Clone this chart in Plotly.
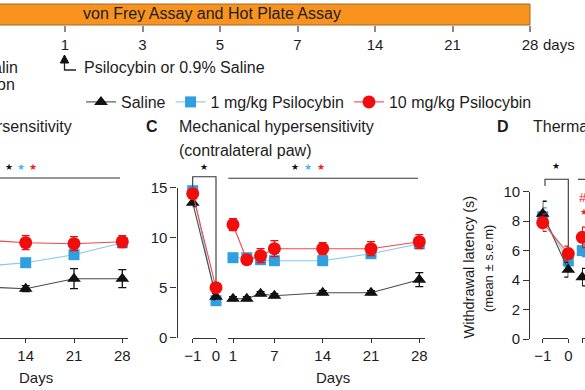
import plotly.graph_objects as go

W, H = 585, 390


def X(p):
    return p / W


def Y(p):
    return 1 - p / H


# ---------------- data ----------------
TIMELINE_DAYS = [1, 3, 5, 7, 14, 21, 28]
SERIES_NAMES = ["Saline", "1 mg/kg Psilocybin", "10 mg/kg Psilocybin"]

# Panel B (visible part only)
B_DAYS = [7, 14, 21, 28]
B_SALINE = [5.1, 4.9, 5.9, 5.9]
B_SALINE_SEM = [0.3, 0.3, 1.0, 0.9]
B_LOW = [7.1, 7.5, 8.3, 9.5]
B_LOW_SEM = [0.3, 0.3, 0.3, 0.3]
B_HIGH = [9.8, 9.5, 9.4, 9.6]
B_HIGH_SEM = [0.6, 0.7, 0.7, 0.6]

# Panel C: mechanical hypersensitivity (contralateral paw)
PRE_DAYS = [-1, 0]
POST_DAYS = [1, 3, 5, 7, 14, 21, 28]
C_SALINE_PRE = [13.5, 4.1]
C_SALINE_PRE_SEM = [0.4, 0.3]
C_LOW_PRE = [14.7, 3.7]
C_LOW_PRE_SEM = [0.2, 0.3]
C_HIGH_PRE = [14.4, 5.0]
C_HIGH_PRE_SEM = [0.3, 0.4]
C_SALINE_POST = [3.9, 3.9, 4.4, 4.2, 4.5, 4.5, 5.8]
C_SALINE_POST_SEM = [0.2, 0.2, 0.2, 0.2, 0.2, 0.2, 0.7]
C_LOW_POST = [8.0, 8.0, 7.8, 7.7, 7.7, 8.4, 9.4]
C_LOW_POST_SEM = [0.3, 0.3, 0.3, 0.3, 0.3, 0.3, 0.3]
C_HIGH_POST = [11.3, 7.8, 8.2, 8.9, 8.9, 8.9, 9.6]
C_HIGH_POST_SEM = [0.6, 0.3, 0.7, 0.8, 0.6, 0.7, 0.7]

# Panel D: thermal hypersensitivity (visible part)
D_PRE_DAYS = [-1, 0]
D_POST_DAYS = [1]
D_SALINE_PRE = [8.5, 4.7]
D_SALINE_PRE_SEM = [0.85, 0.5]
D_LOW_PRE = [8.3, 5.3]
D_LOW_PRE_SEM = [0.6, 0.4]
D_HIGH_PRE = [7.9, 5.8]
D_HIGH_PRE_SEM = [0.6, 0.5]
D_SALINE_POST = [4.2]
D_SALINE_POST_SEM = [0.6]
D_LOW_POST = [6.0]
D_LOW_POST_SEM = [0.4]
D_HIGH_POST = [6.9]
D_HIGH_POST_SEM = [0.7]

C_TICKS_Y = [0, 5, 10, 15]
D_TICKS_Y = [0, 2, 4, 6, 8, 10]

# ---------------- styles ----------------
FONT = "Liberation Sans, Arial, Helvetica, sans-serif"
TXT = "#1d1d1d"
AX = "#333333"
STY = {
    "Saline": dict(color="#111111", line="#4a4a4a", symbol="triangle-up", size=12, rank=1),
    "1 mg/kg Psilocybin": dict(color="#2f9fe0", line="#86c7ea", symbol="square", size=11, rank=2),
    "10 mg/kg Psilocybin": dict(color="#f20d0d", line="#f04848", symbol="circle", size=13, rank=3),
}
ORDER = ["1 mg/kg Psilocybin", "Saline", "10 mg/kg Psilocybin"]

fig = go.Figure()


def add(name, x, y, sem, xa, ya, legend=False):
    s = STY[name]
    fig.add_trace(go.Scatter(
        x=x, y=y, mode="lines+markers", name=name, xaxis=xa, yaxis=ya,
        line=dict(color=s["line"], width=1.1),
        marker=dict(symbol=s["symbol"], size=s["size"], color=s["color"], line=dict(width=0)),
        error_y=dict(type="data", array=sem, color=s["color"], thickness=1.3, width=4),
        showlegend=legend, legendrank=s["rank"], cliponaxis=False, hoverinfo="skip"))


B = {"Saline": (B_SALINE, B_SALINE_SEM), "1 mg/kg Psilocybin": (B_LOW, B_LOW_SEM),
     "10 mg/kg Psilocybin": (B_HIGH, B_HIGH_SEM)}
CPRE = {"Saline": (C_SALINE_PRE, C_SALINE_PRE_SEM), "1 mg/kg Psilocybin": (C_LOW_PRE, C_LOW_PRE_SEM),
        "10 mg/kg Psilocybin": (C_HIGH_PRE, C_HIGH_PRE_SEM)}
CPOST = {"Saline": (C_SALINE_POST, C_SALINE_POST_SEM), "1 mg/kg Psilocybin": (C_LOW_POST, C_LOW_POST_SEM),
         "10 mg/kg Psilocybin": (C_HIGH_POST, C_HIGH_POST_SEM)}
DPRE = {"Saline": (D_SALINE_PRE, D_SALINE_PRE_SEM), "1 mg/kg Psilocybin": (D_LOW_PRE, D_LOW_PRE_SEM),
        "10 mg/kg Psilocybin": (D_HIGH_PRE, D_HIGH_PRE_SEM)}
DPOST = {"Saline": (D_SALINE_POST, D_SALINE_POST_SEM), "1 mg/kg Psilocybin": (D_LOW_POST, D_LOW_POST_SEM),
         "10 mg/kg Psilocybin": (D_HIGH_POST, D_HIGH_POST_SEM)}

for n in ORDER:
    add(n, B_DAYS, *B[n], "x2", "y2")
    add(n, PRE_DAYS, *CPRE[n], "x3", "y3")
    add(n, POST_DAYS, *CPOST[n], "x4", "y3", legend=True)
    add(n, D_PRE_DAYS, *DPRE[n], "x5", "y5")
    add(n, D_POST_DAYS, *DPOST[n], "x6", "y5")

# ---------------- axes ----------------
PXD = 6.9          # pixels per day on the 1..28 axes
A_C = 226.1        # pixel of day 0 on panel C's post axis
C_R0 = (228.3 - A_C) / PXD
C_R1 = (425 - A_C) / PXD
B_R0 = 21 - 74 / PXD
B_R1 = B_R0 + 128 / PXD

XAX_Y = 342.7
common_x = dict(showgrid=False, zeroline=False, showline=True, linecolor=AX, linewidth=1.2,
                ticks="outside", ticklen=4, tickwidth=1.2, tickcolor=AX, automargin=False,
                tickfont=dict(size=15, color=TXT, family=FONT), anchor="y8", tickmode="array")
xdefs = {
    "xaxis2": dict(domain=[0, X(128)], range=[B_R0, B_R1], tickvals=[7, 14, 21, 28]),
    "xaxis3": dict(domain=[X(192.7), X(216)], range=[-1, 0], tickvals=PRE_DAYS),
    "xaxis4": dict(domain=[X(228.3), X(425)], range=[C_R0, C_R1], tickvals=[1, 7, 14, 21, 28]),
    "xaxis5": dict(domain=[X(542.7), X(568.3)], range=[-1, 0], tickvals=D_PRE_DAYS),
    "xaxis6": dict(domain=[X(582), 1], range=[1 - 0.3 / PXD, 1 + 3 / PXD], tickvals=D_POST_DAYS),
}
layout_axes = {}
k = 8
for name, d in xdefs.items():
    layout_axes[name] = dict(common_x, **d)
    # companion axis providing the upper half of the crossing tick marks
    k += 1
    layout_axes["xaxis%d" % k] = dict(domain=d["domain"], range=d["range"], tickvals=d["tickvals"],
                                      tickmode="array", anchor="y8", showgrid=False, zeroline=False,
                                      showline=False, ticks="inside", ticklen=4, tickwidth=1.2,
                                      tickcolor=AX, showticklabels=False, automargin=False)

common_y = dict(showgrid=False, zeroline=False, showline=True, linecolor=AX, linewidth=1.2,
                ticks="outside", ticklen=6, tickwidth=1.2, tickcolor=AX, automargin=False,
                tickfont=dict(size=15, color=TXT, family=FONT), tickmode="array")
layout_axes["yaxis2"] = dict(domain=[Y(337.7), Y(187.7)], range=[0, 15], visible=False, anchor="x2",
                             automargin=False)
layout_axes["yaxis3"] = dict(common_y, domain=[Y(337.7), Y(187.7)], range=[0, 15], tickvals=C_TICKS_Y,
                             anchor="free", position=X(176.5))
layout_axes["yaxis5"] = dict(common_y, domain=[Y(339), Y(191.7)], range=[0, 10], tickvals=D_TICKS_Y,
                             anchor="free", position=X(529.3))
layout_axes["yaxis8"] = dict(domain=[Y(XAX_Y), Y(300)], range=[0, 1], visible=False, anchor="x2",
                             automargin=False)

# timeline axis (equally spaced day marks)
T0, TSTEP = 65, 77.5
layout_axes["xaxis7"] = dict(domain=[0, 1], range=[(0 - T0) / TSTEP, (W - T0) / TSTEP], anchor="y7",
                             showgrid=False, zeroline=False, showline=False, ticks="outside",
                             ticklen=6, tickwidth=1.5, tickcolor="#8a8a8a", tickmode="array",
                             tickvals=list(range(len(TIMELINE_DAYS))),
                             ticktext=[str(d) for d in TIMELINE_DAYS], automargin=False,
                             tickfont=dict(size=15, color=TXT, family=FONT))
layout_axes["yaxis7"] = dict(domain=[Y(25), Y(4)], range=[0, 1], visible=False, anchor="x7",
                             automargin=False)

# ---------------- shapes ----------------
shapes = [dict(type="rect", xref="x7", yref="paper", x0=-2, x1=len(TIMELINE_DAYS) - 1,
               y0=Y(25), y1=Y(4), fillcolor="#f7931e", line=dict(color="#a2682a", width=1), layer="below")]


def seg(pts, color=AX, w=1.1, fill=None):
    d = "M " + " L ".join("%.5f,%.5f" % (X(a), Y(b)) for a, b in pts)
    if fill:
        d += " Z"
    shapes.append(dict(type="path", xref="paper", yref="paper", path=d,
                       line=dict(color=color, width=w), fillcolor=fill if fill else "rgba(0,0,0,0)"))


seg([(64.5, 62), (64.5, 70), (76, 70)], color="#222", w=1.3)
seg([(60.3, 63), (68.7, 63), (64.5, 55)], color="#111", w=1, fill="#111")
seg([(0, 178), (120, 178)])
seg([(192.7, 186.7), (192.7, 176.7), (216, 176.7), (216, 281.7)])
seg([(228.3, 178.3), (418, 178.3)])
seg([(545, 186), (545, 179.3), (568.3, 179.3), (568.3, 247)])
seg([(578, 179.3), (590, 179.3)])

# ---------------- annotations ----------------
ann = []


def txt(x, y, s, size=16, anchor="left", color=TXT, angle=0, bold=False):
    ann.append(dict(text="<b>%s</b>" % s if bold else s, x=X(x), y=Y(y), xref="paper", yref="paper",
                    xanchor=anchor, yanchor="middle", showarrow=False, textangle=angle,
                    font=dict(size=size, color=color, family=FONT)))


txt(212, 14, "von Frey Assay and Hot Plate Assay", anchor="center")
txt(541, 44, "days", size=15)
txt(82, 67, "Psilocybin or 0.9% Saline")
txt(20, 67, "alin", anchor="right")
txt(17, 84, "on", anchor="right")
txt(74, 127, "rsensitivity", anchor="right")
txt(152, 127, "C", anchor="center", bold=True)
txt(177, 127, "Mechanical hypersensitivity")
txt(177, 150, "(contralateral paw)")
txt(503, 127, "D", anchor="center", bold=True)
txt(531, 127, "Therma")
txt(36, 377, "Days", size=15, anchor="center")
txt(333, 377, "Days", size=15, anchor="center")
txt(468, 267.5, "Withdrawal latency (s)", size=14.5, anchor="center", angle=-90)
txt(488, 269, "(mean ± s.e.m)", size=13, anchor="center", angle=-90)

STAR_BLACK, STAR_CYAN, STAR_RED = "#111111", "#46b9e8", "#f02020"
for x, c in [(9, STAR_BLACK), (21, STAR_CYAN), (33, STAR_RED),
             (295, STAR_BLACK), (308, STAR_CYAN), (321, STAR_RED)]:
    txt(x, 167, "★", size=9, anchor="center", color=c)
txt(204.3, 167, "★", size=9, anchor="center", color=STAR_BLACK)
txt(556, 166, "★", size=9, anchor="center", color=STAR_BLACK)
txt(577, 197, "#", size=13, color=STAR_RED)
txt(578, 212, "★", size=9, color=STAR_RED)

fig.update_layout(
    width=W, height=H, margin=dict(l=0, r=0, t=0, b=0, pad=0, autoexpand=False),
    paper_bgcolor="white", plot_bgcolor="rgba(0,0,0,0)",
    font=dict(family=FONT, color=TXT, size=15),
    shapes=shapes, annotations=ann,
    legend=dict(orientation="h", x=X(81), y=Y(102), xanchor="left", yanchor="middle",
                font=dict(size=16, color=TXT, family=FONT), bgcolor="rgba(0,0,0,0)",
                itemwidth=30, traceorder="normal"),
    **layout_axes,
)

fig.write_html("out.html", config={"displayModeBar": False},
               post_script="document.body.style.margin='0';document.body.style.padding='0';"
                           "document.body.style.overflow='hidden';")
